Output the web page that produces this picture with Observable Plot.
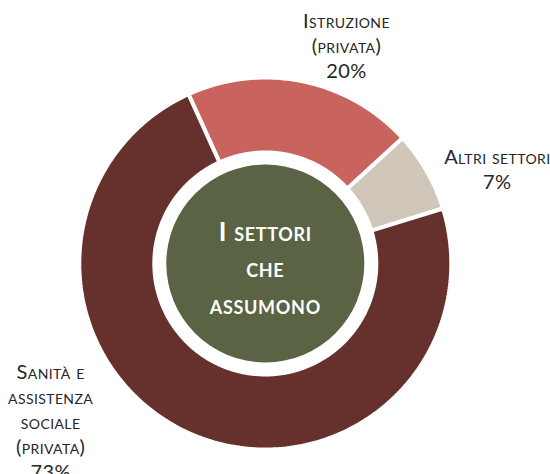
<!DOCTYPE html>
<html><head><meta charset="utf-8">
<script src="https://cdn.jsdelivr.net/npm/d3@7"></script>
<script src="https://cdn.jsdelivr.net/npm/@observablehq/plot@0.6"></script>
<style>
body{margin:0;background:#fff}
.lbl text{letter-spacing:0.4px}
.ctr text{letter-spacing:0.7px}
</style>
</head><body><div id="chart"></div>
<script>
// ---- data ----
const keys = ["istruzione", "altri", "sanita"];
const categories = ["Istruzione\n(privata)", "Altri settori", "Sanità e\nassistenza\nsociale\n(privata)"];
const shares = [20, 7, 73];
const centerTitle = ["I settori", "che", "assumono"];
const colors = ["#C8635D", "#D1C6BA", "#66302C"];

// ---- layout ----
const W = 550, H = 474;
const CX = 264.8, CY = 263, R = 184;      // pixel centre and outer radius
const outerR = 1 + 2 / R;                 // white stroke eats 2px
const innerR = (113 - 2) / R;
const startDeg = -24.4;
const labelPlacement = [
  {angle: 20.4, radius: 1.266},
  {angle: 67.8, radius: 1.362},
  {angle: 233.8, radius: 1.446}
];

const data = keys.map((k, i) => ({key: k, label: categories[i], share: shares[i]}));
const a0 = startDeg * Math.PI / 180;
const arcs = d3.pie().sort(null).value(d => d.share).startAngle(a0).endAngle(a0 + 2 * Math.PI)(data);

const pts = [];
arcs.forEach(a => {
  const n = Math.max(2, Math.ceil((a.endAngle - a.startAngle) / (Math.PI / 180)));
  for (let i = 0; i <= n; i++) {
    const t = a.startAngle + (a.endAngle - a.startAngle) * i / n;
    pts.push({key: a.data.key, x: outerR * Math.sin(t), y: outerR * Math.cos(t)});
  }
  for (let i = n; i >= 0; i--) {
    const t = a.startAngle + (a.endAngle - a.startAngle) * i / n;
    pts.push({key: a.data.key, x: innerR * Math.sin(t), y: innerR * Math.cos(t)});
  }
});

const labels = data.map((d, i) => {
  const p = labelPlacement[i];
  const t = p.angle * Math.PI / 180;
  return {x: p.radius * Math.sin(t), y: p.radius * Math.cos(t), text: d.label + "\n" + d.share + "%"};
});

const chart = Plot.plot({
  width: W, height: H, margin: 0,
  x: {domain: [-CX / R, (W - CX) / R], axis: null},
  y: {domain: [-(H - CY) / R, CY / R], axis: null},
  color: {domain: keys, range: colors},
  marks: [
    Plot.line(pts, {x: "x", y: "y", z: "key", fill: "key", stroke: "white", strokeWidth: 4, curve: "linear-closed", strokeLinejoin: "miter"}),
    Plot.dot([{x: 0, y: 0}], {x: "x", y: "y", r: 99, fill: "#5A6344"}),
    Plot.text([{x: 0, y: 0, text: centerTitle.join("\n")}], {x: "x", y: "y", text: "text", dy: 2, fontSize: 26, fontWeight: "bold", fontFamily: "Lato", fontVariant: "small-caps", lineHeight: 1.4, fill: "white", className: "ctr"}),
    Plot.text(labels, {x: "x", y: "y", text: "text", fontSize: 20, fontFamily: "Lato", fontVariant: "small-caps", lineHeight: 1.25, fill: "#262626", className: "lbl"})
  ]
});
document.getElementById("chart").append(chart);
</script>
</body></html>
